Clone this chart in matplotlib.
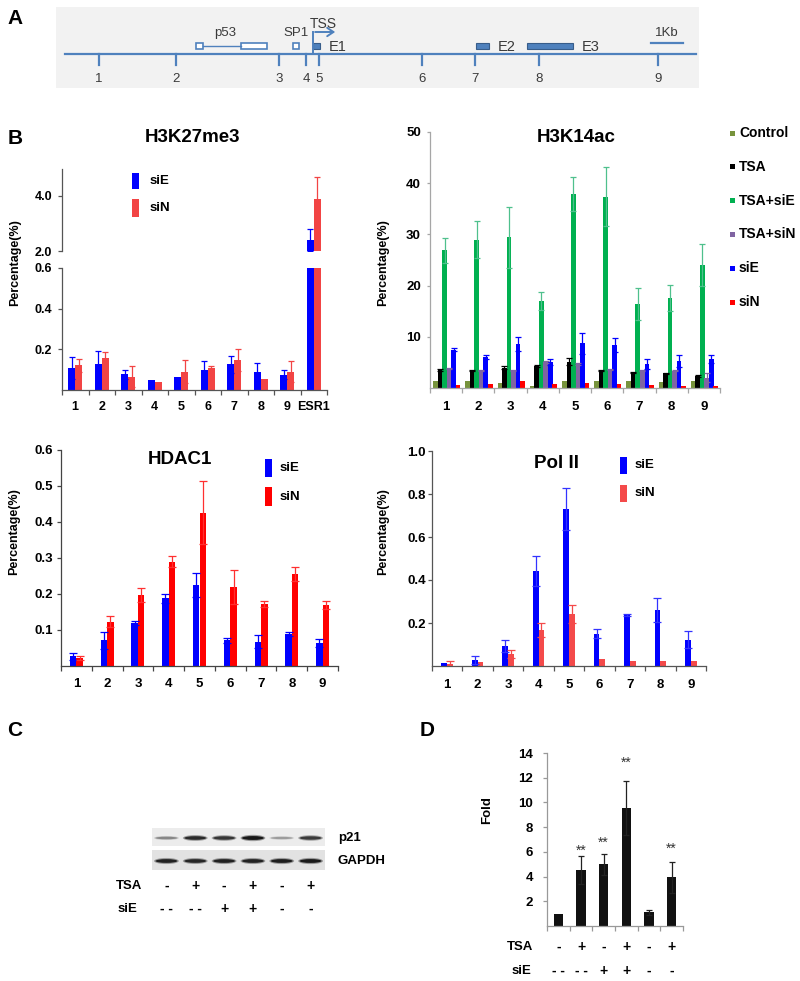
import numpy as np
import matplotlib
matplotlib.use("Agg")
import matplotlib.pyplot as plt
from matplotlib.patches import Rectangle, Ellipse
from matplotlib.ticker import FormatStrFormatter

plt.rcParams['font.family'] = ['Liberation Sans', 'DejaVu Sans']
plt.rcParams['font.weight'] = 'bold'

# ---------------- data ----------------
# A: ESR1 locus map, positions in kb relative to TSS
site_labels = ['1', '2', '3', '4', '5', '6', '7', '8', '9']
site_pos = [-6.70, -4.28, -1.06, -0.22, 0.19, 3.41, 5.05, 7.06, 10.78]
open_boxes = [(-3.66, -3.45), (-2.25, -1.44), (-0.63, -0.44)]
exon_names = ['E1', 'E2', 'E3']
exon_pos = [(0.0, 0.22), (5.08, 5.50), (6.69, 8.13)]

# B: ChIP
groups9 = ['1', '2', '3', '4', '5', '6', '7', '8', '9']
groups10 = groups9 + ['ESR1']

k27_sie = [0.110, 0.128, 0.077, 0.049, 0.066, 0.100, 0.126, 0.089, 0.075, 2.40]
k27_sie_err = [0.054, 0.065, 0.021, 0, 0, 0.043, 0.041, 0.042, 0.022, 0.40]
k27_sin = [0.121, 0.159, 0.066, 0.039, 0.089, 0.108, 0.148, 0.056, 0.089, 3.89]
k27_sin_err = [0.031, 0.026, 0.052, 0, 0.057, 0.012, 0.054, 0, 0.052, 0.80]

k14_series = ['Control', 'TSA', 'TSA+siE', 'TSA+siN', 'siE', 'siN']
k14_control = [1.4, 1.4, 1.0, 0.45, 1.3, 1.4, 1.3, 1.2, 1.3]
k14_tsa = [3.6, 3.4, 4.0, 4.3, 5.1, 3.4, 3.1, 2.9, 2.3]
k14_tsa_err = [0.2, 0.1, 0.3, 0.2, 0.7, 0.1, 0.1, 0.1, 0.2]
k14_tsa_sie = [26.9, 29.0, 29.4, 17.0, 37.9, 37.4, 16.4, 17.6, 24.0]
k14_tsa_sie_err = [2.4, 3.6, 5.9, 1.8, 3.3, 5.7, 3.1, 2.6, 4.1]
k14_tsa_sin = [3.8, 3.4, 3.4, 5.1, 4.7, 3.6, 3.4, 3.4, 2.0]
k14_tsa_sin_err = [0.1, 0.1, 0.1, 0.2, 0.2, 0.1, 0.1, 0.1, 0.9]
k14_sie = [7.5, 6.0, 8.6, 5.0, 8.7, 8.4, 4.7, 5.3, 5.7]
k14_sie_err = [0.3, 0.4, 1.3, 0.6, 2.0, 1.3, 1.0, 1.2, 0.8]
k14_sin = [0.6, 0.8, 1.3, 0.85, 1.0, 0.8, 0.6, 0.45, 0.4]

hdac_sie = [0.027, 0.071, 0.119, 0.188, 0.225, 0.071, 0.068, 0.088, 0.065]
hdac_sie_err = [0.009, 0.023, 0.005, 0.012, 0.032, 0.007, 0.018, 0.006, 0.011]
hdac_sin = [0.022, 0.123, 0.198, 0.290, 0.426, 0.220, 0.172, 0.255, 0.170]
hdac_sin_err = [0.006, 0.016, 0.020, 0.015, 0.087, 0.048, 0.009, 0.019, 0.011]

pol_sie = [0.014, 0.026, 0.092, 0.44, 0.73, 0.149, 0.238, 0.26, 0.122]
pol_sie_err = [0, 0.019, 0.028, 0.07, 0.096, 0.021, 0.004, 0.055, 0.04]
pol_sin = [0.008, 0.018, 0.057, 0.168, 0.242, 0.031, 0.025, 0.025, 0.025]
pol_sin_err = [0.015, 0, 0.018, 0.032, 0.043, 0, 0, 0, 0]

# C: western blot band intensities (0..1)
tsa_signs = ['-', '+', '-', '+', '-', '+']
sie_signs = ['- -', '- -', '+', '+', '-', '-']
p21_band = [0.40, 0.85, 0.80, 0.95, 0.30, 0.78]
gapdh_band = [0.90, 0.88, 0.90, 0.90, 0.92, 0.93]

# D: p21 mRNA fold
fold = [1.0, 4.55, 5.0, 9.55, 1.1, 3.95]
fold_err = [0, 1.15, 0.85, 2.2, 0.2, 1.25]
fold_sig = ['', '**', '**', '**', '', '**']
fold_sig_y = [0, 5.8, 6.4, 12.9, 0, 5.9]

# ---------------- layout helpers ----------------
W, H = 800, 981
fig = plt.figure(figsize=(W / 100, H / 100), dpi=100)


def px_axes(x0, y0, x1, y1):
    return fig.add_axes([x0 / W, 1 - y1 / H, (x1 - x0) / W, (y1 - y0) / H])


def ftext(x, y, s, **kw):
    kw.setdefault('ha', 'center')
    kw.setdefault('va', 'center')
    return fig.text(x / W, 1 - y / H, s, **kw)


def frect(x0, y0, x1, y1, color):
    fig.add_artist(Rectangle((x0 / W, 1 - y1 / H), (x1 - x0) / W, (y1 - y0) / H,
                             transform=fig.transFigure, color=color, lw=0))


def bar_axes(x0, y0, x1, y1, spine_c):
    ax = px_axes(x0, y0, x1, y1)
    ax.spines[['top', 'right']].set_visible(False)
    for s in ['left', 'bottom']:
        ax.spines[s].set_color(spine_c)
        ax.spines[s].set_linewidth(0.9)
    ax.tick_params(which='both', color=spine_c, labelcolor='black')
    ax.set_facecolor('none')
    return ax


def set_groups(ax, labels, pad, size=9):
    n = len(labels)
    ax.set_xlim(-0.5, n - 0.5)
    ax.set_xticks(np.arange(n))
    ax.set_xticklabels(labels)
    ax.set_xticks(np.arange(n + 1) - 0.5, minor=True)
    ax.tick_params(axis='x', which='major', length=0, pad=pad, labelsize=size)
    ax.tick_params(axis='x', which='minor', length=3.5, width=0.9)


def set_yaxis(ax, lim, ticks, fmt, length, pad, size=9):
    ax.set_ylim(*lim)
    ax.set_yticks(ticks)
    ax.yaxis.set_major_formatter(FormatStrFormatter(fmt))
    ax.tick_params(axis='y', length=length, width=0.9, pad=pad, labelsize=size)


def bars(ax, x, vals, err, color, ecolor, width, capsize):
    vals = np.asarray(vals, float)
    ax.bar(x, vals, width, color=color, linewidth=0, zorder=2)
    if err is None:
        return
    err = np.asarray(err, float)
    m = err > 0
    if m.any():
        ax.errorbar(x[m], vals[m], yerr=err[m], fmt='none', ecolor=ecolor,
                    elinewidth=0.9, capsize=capsize, capthick=0.9, zorder=3)


def pair_legend(x0, x1, tx, rows, size=9.5):
    for (y0, y1, c, lab) in rows:
        frect(x0, y0, x1, y1, c)
        ftext(tx, (y0 + y1) / 2, lab, ha='left', fontsize=size)


# ---------------- A ----------------
line_c = '#4f81bd'
txt_c = '#3a3a3a'
ftext(15, 18, 'A', fontsize=15)
ax_a = px_axes(56, 7, 699, 88)
ax_a.set_xlim(-8.03, 12.06)
ax_a.set_ylim(88, 7)
ax_a.set_facecolor('#f2f2f2')
ax_a.set_xticks([])
ax_a.set_yticks([])
for s in ax_a.spines.values():
    s.set_visible(False)
ax_a.plot([-7.75, 11.97], [54, 54], color=line_c, lw=1.6)
for p, lab in zip(site_pos, site_labels):
    ax_a.plot([p, p], [54, 65], color=line_c, lw=1.6)
    ax_a.text(p, 79, lab, ha='center', va='center', fontsize=9.5,
              fontweight='normal', color=txt_c)
ax_a.plot([open_boxes[0][1], open_boxes[1][0]], [46, 46], color=line_c, lw=1)
for s0, s1 in open_boxes:
    ax_a.add_patch(Rectangle((s0, 43), s1 - s0, 6, fc='white', ec=line_c, lw=1.2))
for (s0, s1), name in zip(exon_pos, exon_names):
    ax_a.add_patch(Rectangle((s0, 43), s1 - s0, 6, fc=line_c, ec='#385d8a', lw=0.8))
    ax_a.text(s1 + 0.28, 47, name, ha='left', va='center', fontsize=10.5,
              fontweight='normal', color=txt_c)
ax_a.plot([0, 0], [54, 32], color=line_c, lw=1.4)
ax_a.annotate('', xy=(0.78, 32), xytext=(-0.02, 32),
              arrowprops=dict(arrowstyle='->,head_length=0.45,head_width=0.3',
                              color=line_c, lw=1.4))
ax_a.text(0.31, 24, 'TSS', ha='center', va='center', fontsize=10,
          fontweight='normal', color=txt_c)
ax_a.text(np.mean(open_boxes[0] + open_boxes[1]) - 0.05, 33, 'p53', ha='center',
          va='center', fontsize=9.5, fontweight='normal', color=txt_c)
ax_a.text(np.mean(open_boxes[2]), 33, 'SP1', ha='center', va='center',
          fontsize=9.5, fontweight='normal', color=txt_c)
ax_a.plot([10.56, 11.56], [43, 43], color=line_c, lw=1.6)
ax_a.text(11.06, 33, '1Kb', ha='center', va='center', fontsize=9.5,
          fontweight='normal', color=txt_c)

# ---------------- B: H3K27me3 (broken axis) ----------------
blue = '#0000ff'
red_l = '#f24444'
ftext(15, 138, 'B', fontsize=15)
ftext(192, 138, 'H3K27me3', fontsize=13.5)
ftext(15, 263, 'Percentage(%)', rotation=90, fontsize=9)

x10 = np.arange(len(groups10))
w27 = 0.26
ax_up = bar_axes(62, 169, 327, 251, '#555555')
ax_lo = bar_axes(62, 268, 327, 390, '#555555')
for ax in (ax_up, ax_lo):
    bars(ax, x10 - w27 / 2, k27_sie, k27_sie_err, blue, blue, w27, 2.5)
    bars(ax, x10 + w27 / 2, k27_sin, k27_sin_err, red_l, red_l, w27, 2.5)
    ax.set_xlim(-0.5, len(groups10) - 0.5)
ax_up.spines['bottom'].set_visible(False)
ax_up.set_xticks([])
set_yaxis(ax_up, (2.0, 4.98), [2.0, 4.0], '%.1f', 3, 4)
set_groups(ax_lo, groups10, 8)
set_yaxis(ax_lo, (0, 0.6), [0.2, 0.4, 0.6], '%.1f', 3, 4)
pair_legend(132, 139, 150, [(173, 189, blue, 'siE'), (199, 217, red_l, 'siN')])

# ---------------- B: H3K14ac ----------------
ftext(576, 138, 'H3K14ac', fontsize=13.5)
ftext(383, 263, 'Percentage(%)', rotation=90, fontsize=9)
k14_colors = ['#77933c', '#000000', '#00b050', '#8064a2', '#0000ff', '#ff0000']
k14_ecolors = ['#77933c', '#000000', '#4fc08d', '#8064a2', '#0000ff', '#ff0000']
k14_vals = [k14_control, k14_tsa, k14_tsa_sie, k14_tsa_sin, k14_sie, k14_sin]
k14_errs = [None, k14_tsa_err, k14_tsa_sie_err, k14_tsa_sin_err, k14_sie_err, None]
ax_k14 = bar_axes(430, 132, 720, 388, '#a6a6a6')
x9 = np.arange(len(groups9))
w14 = 0.145
for i, (v, e, c, ec) in enumerate(zip(k14_vals, k14_errs, k14_colors, k14_ecolors)):
    bars(ax_k14, x9 + (i - 2.5) * 0.14 + 0.02, v, e, c, ec, w14, 2)
set_groups(ax_k14, groups9, 9, 9.5)
set_yaxis(ax_k14, (0, 50), [10, 20, 30, 40, 50], '%d', 2, 4.5, 9.5)
for k, (lab, c) in enumerate(zip(k14_series, k14_colors)):
    y = 133 + k * 33.8
    frect(729.5, y - 2.5, 734.5, y + 2.5, c)
    ftext(739, y, lab, ha='left', fontsize=10)

# ---------------- B: HDAC1 ----------------
ftext(180, 460, 'HDAC1', fontsize=13.5)
ftext(14, 532, 'Percentage(%)', rotation=90, fontsize=9)
ax_hd = bar_axes(61, 450, 338, 666, '#444444')
wh = 0.21
bars(ax_hd, x9 - wh / 2, hdac_sie, hdac_sie_err, blue, blue, wh, 3)
bars(ax_hd, x9 + wh / 2, hdac_sin, hdac_sin_err, '#ff0000', '#ff3030', wh, 3)
set_groups(ax_hd, groups9, 8.3, 9.5)
set_yaxis(ax_hd, (0, 0.6), [0.1, 0.2, 0.3, 0.4, 0.5, 0.6], '%.1f', 3, 2.5, 9.5)
pair_legend(265, 272, 280, [(459, 477, blue, 'siE'), (487, 506, '#ff0000', 'siN')])

# ---------------- B: Pol II ----------------
ftext(557, 463, 'Pol II', fontsize=13.5)
ftext(383, 532, 'Percentage(%)', rotation=90, fontsize=9)
red_p = '#f44a4a'
ax_pol = bar_axes(432, 451, 706, 666, '#555555')
wp = 0.19
bars(ax_pol, x9 - wp / 2, pol_sie, pol_sie_err, blue, '#3333ff', wp, 3)
bars(ax_pol, x9 + wp / 2, pol_sin, pol_sin_err, red_p, red_p, wp, 3)
set_groups(ax_pol, groups9, 9, 9.5)
set_yaxis(ax_pol, (0, 1.0), [0.2, 0.4, 0.6, 0.8, 1.0], '%.1f', 3, 1.5, 9.5)
pair_legend(620, 627, 635, [(457, 474, blue, 'siE'), (485, 502, red_p, 'siN')])

# ---------------- C: western blot ----------------
ftext(15, 730, 'C', fontsize=15)
ax_c = px_axes(152, 826, 325, 915)
ax_c.set_xlim(0, len(p21_band))
ax_c.set_ylim(915, 826)
ax_c.axis('off')
ax_c.add_patch(Rectangle((0, 828), 6, 18, fc='#ececec', lw=0))
ax_c.add_patch(Rectangle((0, 850), 6, 20, fc='#e2e2e2', lw=0))
for i, (a, g) in enumerate(zip(p21_band, gapdh_band)):
    for yc, k in ((838, a), (861, g)):
        ax_c.add_patch(Ellipse((i + 0.5, yc), 0.86, 2.5 + 4 * k,
                               fc=str(0.92 - 0.55 * k), lw=0, alpha=0.6))
        ax_c.add_patch(Ellipse((i + 0.5, yc), 0.76, 1.5 + 2.5 * k,
                               fc=str(0.85 - 0.8 * k), lw=0))
    ax_c.text(i + 0.5, 886, tsa_signs[i], ha='center', va='center', fontsize=10)
    ax_c.text(i + 0.5, 909, sie_signs[i], ha='center', va='center', fontsize=10)
ax_c.text(6.45, 838, 'p21', ha='left', va='center', fontsize=9.5)
ax_c.text(6.42, 861, 'GAPDH', ha='left', va='center', fontsize=9.5)
ax_c.text(-0.35, 886, 'TSA', ha='right', va='center', fontsize=9.5)
ax_c.text(-0.52, 909, 'siE', ha='right', va='center', fontsize=9.5)

# ---------------- D: fold ----------------
ftext(427, 730, 'D', fontsize=15)
ftext(487, 810, 'Fold', rotation=90, fontsize=9.5)
ax_d = bar_axes(547, 753, 683, 926, '#999999')
x6 = np.arange(len(fold))
bars(ax_d, x6, fold, fold_err, '#111111', '#222222', 0.42, 2)
set_groups(ax_d, [''] * len(fold), 4)
set_yaxis(ax_d, (0, 14), [2, 4, 6, 8, 10, 12, 14], '%d', 3, 7, 9.5)
for xi, s, y in zip(x6, fold_sig, fold_sig_y):
    if s:
        ax_d.text(xi, y, s, ha='center', va='baseline', fontsize=10,
                  fontweight='normal', color='#333333')
tr = ax_d.get_xaxis_transform()
for xi in x6:
    ax_d.text(xi, -0.121, tsa_signs[xi], transform=tr, ha='center', va='center', fontsize=10)
    ax_d.text(xi, -0.26, sie_signs[xi], transform=tr, ha='center', va='center', fontsize=10)
ax_d.text(-1.12, -0.121, 'TSA', transform=tr, ha='right', va='center', fontsize=9.5)
ax_d.text(-1.2, -0.26, 'siE', transform=tr, ha='right', va='center', fontsize=9.5)

fig.savefig('out.png', dpi=100, facecolor='white')
